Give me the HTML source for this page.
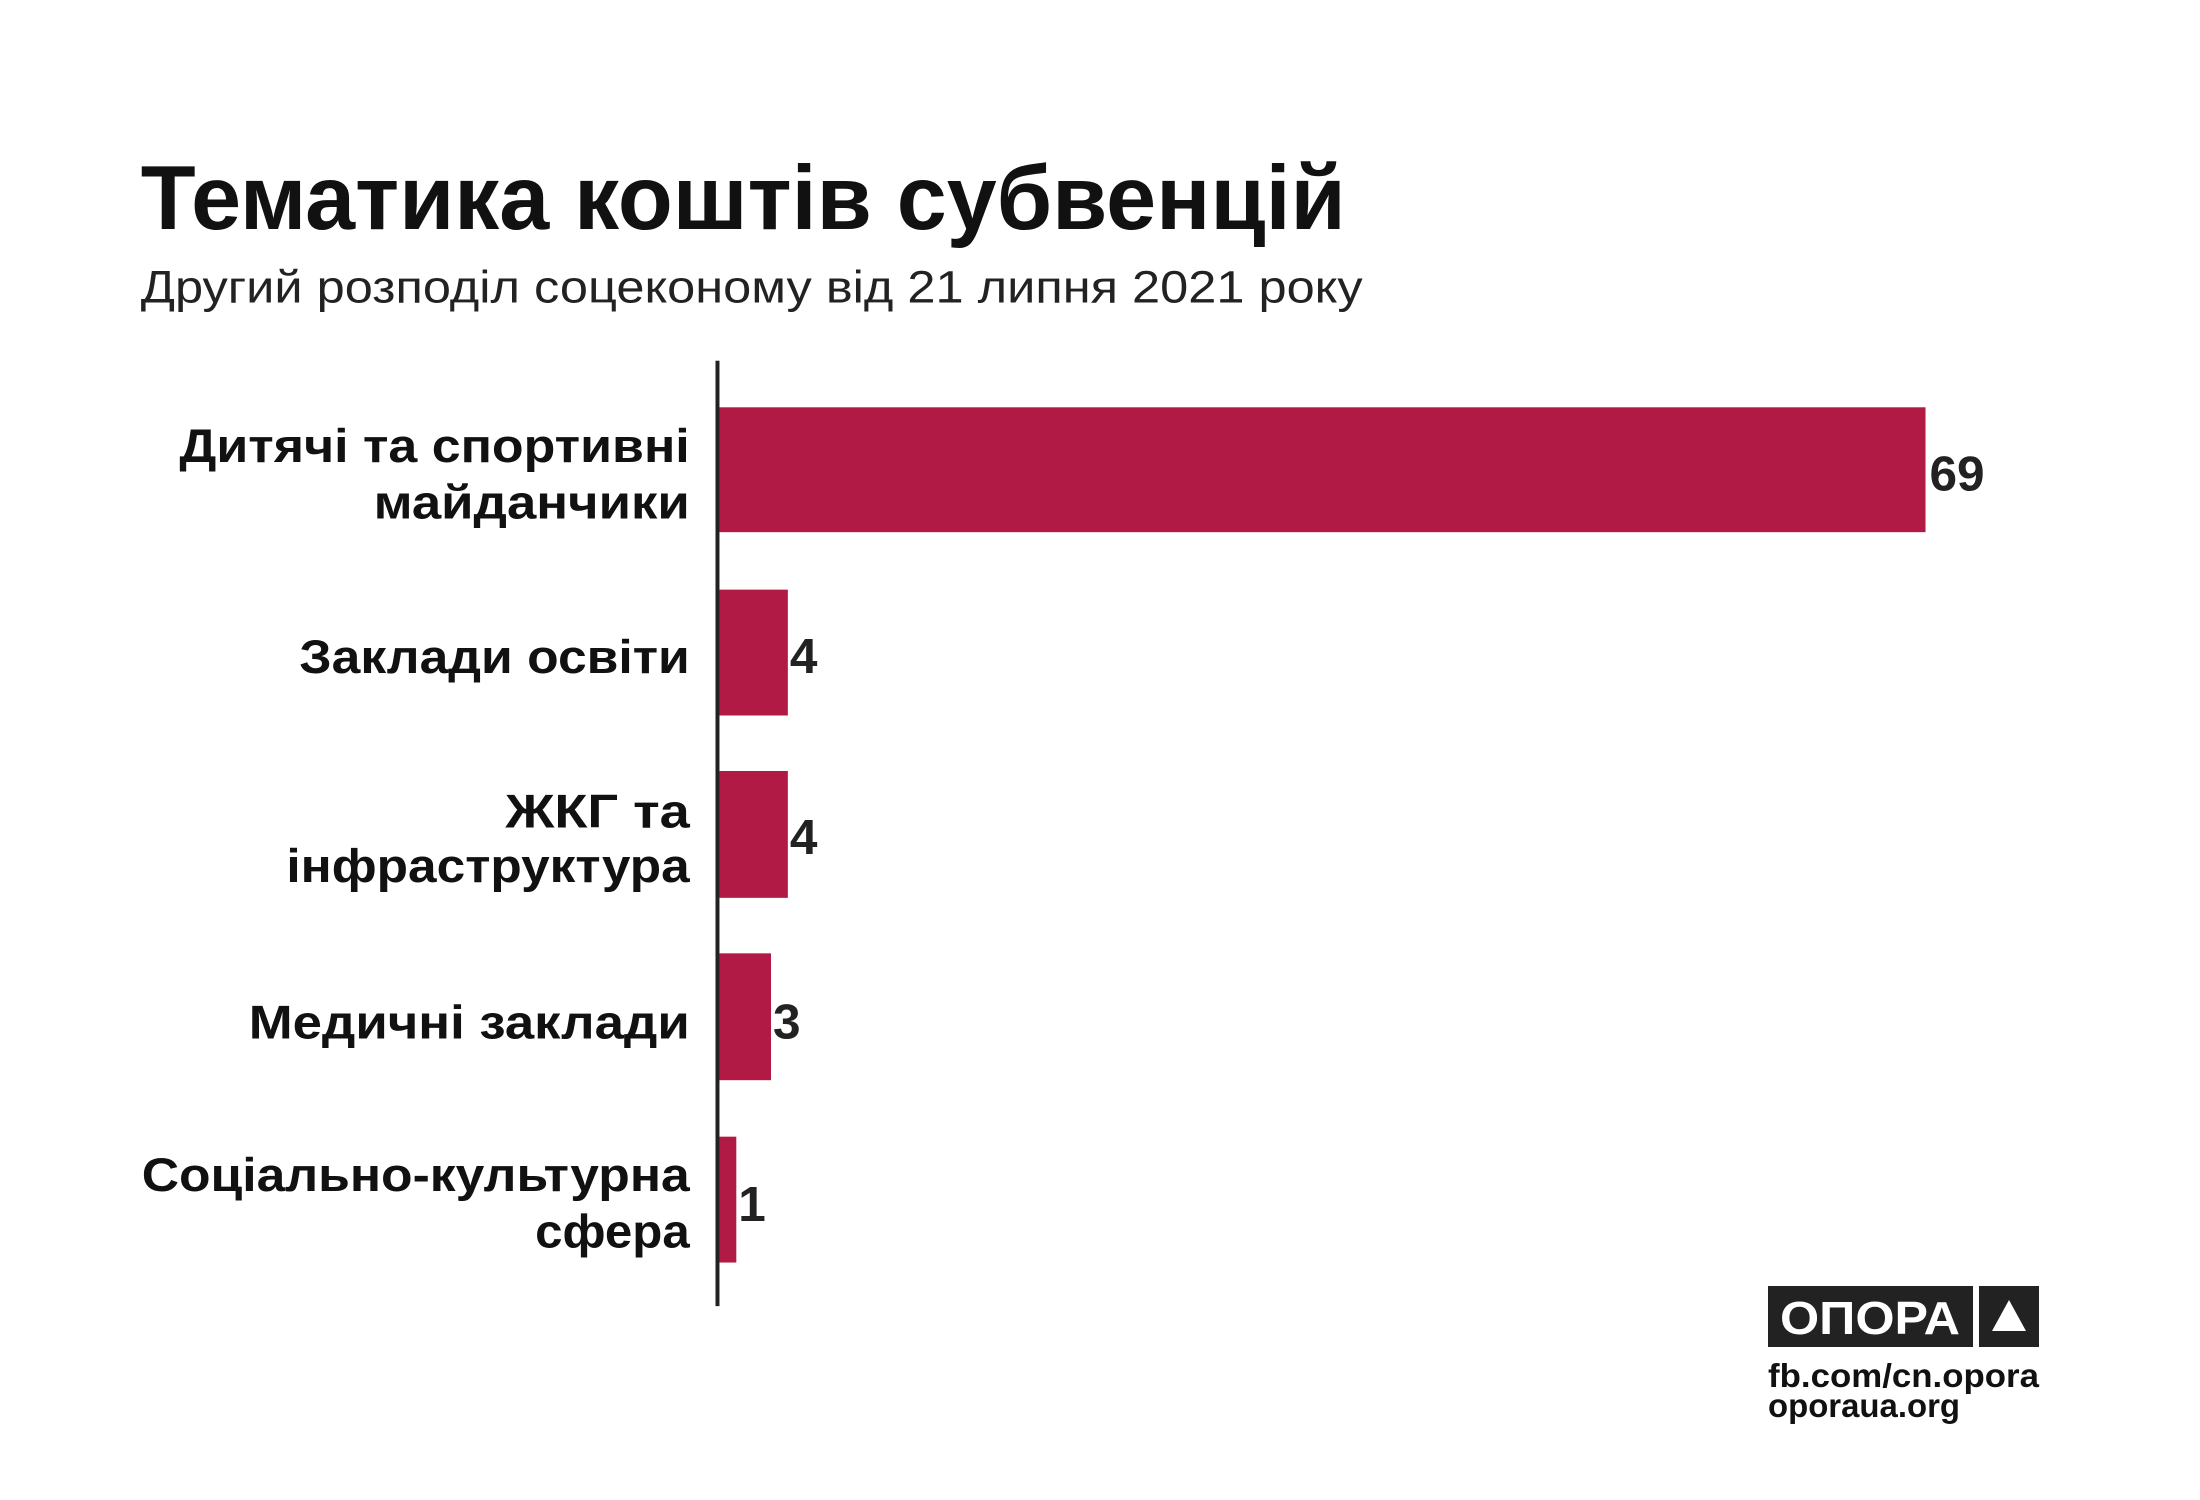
<!DOCTYPE html>
<html><head><meta charset="utf-8"><style>html,body{margin:0;padding:0;background:#fff}svg{display:block}</style></head>
<body>
<svg width="2200" height="1500" viewBox="0 0 2200 1500" xmlns="http://www.w3.org/2000/svg" font-family="'Liberation Sans', sans-serif">
<rect width="2200" height="1500" fill="#fff"/>
<g transform="scale(0.991)">
<text x="142" y="231" font-size="92" font-weight="bold" fill="#111" textLength="1216" lengthAdjust="spacingAndGlyphs">Тематика коштів субвенцій</text>
<text x="142" y="305" font-size="46" fill="#222" textLength="1233" lengthAdjust="spacingAndGlyphs">Другий розподіл соцеконому від 21 липня 2021 року</text>
<g fill="#b01a45">
<rect x="726" y="411" width="1217" height="126"/>
<rect x="726" y="595" width="69" height="127"/>
<rect x="726" y="778" width="69" height="128"/>
<rect x="726" y="962" width="52" height="128"/>
<rect x="726" y="1147" width="17" height="127"/>
</g>
<rect x="722" y="364" width="4" height="954" fill="#222"/>
<g font-size="48" font-weight="bold" fill="#111" text-anchor="end">
<text x="696" y="466" textLength="515" lengthAdjust="spacingAndGlyphs">Дитячі та спортивні</text>
<text x="696" y="523" textLength="319" lengthAdjust="spacingAndGlyphs">майданчики</text>
<text x="696" y="679" textLength="394" lengthAdjust="spacingAndGlyphs">Заклади освіти</text>
<text x="696" y="835" textLength="186" lengthAdjust="spacingAndGlyphs">ЖКГ та</text>
<text x="696" y="890" textLength="407" lengthAdjust="spacingAndGlyphs">інфраструктура</text>
<text x="696" y="1048" textLength="445" lengthAdjust="spacingAndGlyphs">Медичні заклади</text>
<text x="696" y="1202" textLength="553" lengthAdjust="spacingAndGlyphs">Соціально-культурна</text>
<text x="696" y="1259" textLength="156" lengthAdjust="spacingAndGlyphs">сфера</text>
</g>
<g font-size="50" font-weight="bold" fill="#222">
<text x="1947" y="495">69</text>
<text x="797" y="679">4</text>
<text x="797" y="862">4</text>
<text x="780" y="1048">3</text>
<text x="745" y="1232">1</text>
</g>
</g>
<rect x="1768" y="1286" width="205" height="61" fill="#222"/>
<rect x="1979" y="1286" width="60" height="61" fill="#222"/>
<text x="1870" y="1334" font-size="46" font-weight="bold" fill="#fff" text-anchor="middle" textLength="180" lengthAdjust="spacingAndGlyphs">ОПОРА</text>
<polygon points="2009,1300 1992,1331 2026,1331" fill="#fff"/>
<text x="1768" y="1387" font-size="33" font-weight="bold" fill="#111" textLength="271" lengthAdjust="spacingAndGlyphs">fb.com/cn.opora</text>
<text x="1768" y="1417" font-size="33" font-weight="bold" fill="#111" textLength="192" lengthAdjust="spacingAndGlyphs">oporaua.org</text>
</svg>
</body></html>
